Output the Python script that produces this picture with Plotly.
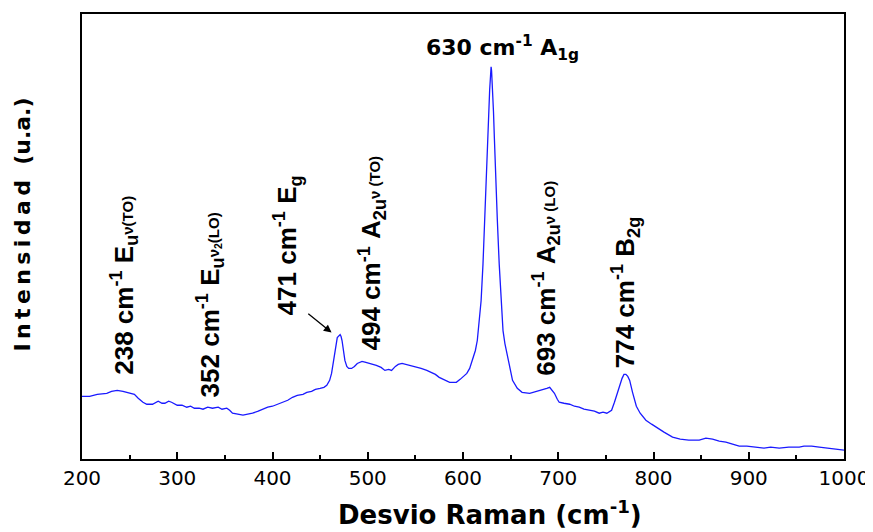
import plotly.graph_objects as go

# Raman shift (cm-1) and intensity (arbitrary units)
shift = [200, 208, 216, 226, 231, 237, 243, 250, 255, 259, 264, 268, 274, 280, 284, 287, 291, 294,
         300, 305, 310, 314, 318, 323, 327, 332, 337, 343, 347, 352, 355, 358, 364, 369, 374, 379,
         385, 390, 395, 400, 406, 411, 416, 421, 426, 432, 436, 441, 445, 450, 454, 457, 460, 462,
         464, 465, 467, 468, 471, 472, 473, 474, 476, 478, 480, 483, 486, 489, 494, 498, 502, 506,
         509, 514, 518, 522, 525, 529, 532, 536, 540, 544, 547, 552, 556, 562, 567, 571, 575, 581,
         586, 590, 593, 597, 600, 604, 607, 610, 613, 615, 617, 619, 621, 623, 625, 626, 627, 628,
         629, 629.5, 630, 631, 632, 633, 634, 636, 638, 640, 642, 644, 646, 649, 652, 657, 662, 670,
         678, 683, 688, 691, 694, 696, 699, 701, 706, 712, 717, 722, 727, 733, 738, 743, 747, 751,
         756, 759, 762, 765, 767, 769, 771, 773, 775, 778, 782, 786, 792, 798, 804, 811, 820, 828,
         837, 848, 855, 862, 869, 876, 883, 890, 898, 908, 916, 923, 932, 942, 953, 958, 966, 974,
         984, 991, 1000]
intensity = [62, 62, 64, 65, 67, 68, 67, 65, 64, 60, 56, 54, 54, 57, 55, 55, 57, 56,
             53, 53, 51, 52, 50, 50, 49, 51, 50, 51, 49, 50, 48, 45, 44, 43, 44, 45,
             47, 49, 51, 52, 54, 56, 58, 61, 63, 64, 66, 67, 69, 70, 71, 73, 78, 85,
             96, 105, 116, 121, 124, 122, 118, 110, 98, 92, 90, 90, 92, 95, 97, 96, 95, 94,
             93, 91, 88, 89, 88, 92, 94, 95, 94, 93, 93, 91, 90, 88, 86, 84, 81, 78,
             76, 76, 76, 79, 82, 85, 90, 98, 108, 118, 138, 158, 195, 240, 290, 318, 345, 370,
             388, 393, 389, 372, 348, 320, 290, 240, 195, 158, 128, 115, 105, 90, 78, 70, 66, 65,
             67, 68, 70, 71, 68, 65, 59, 56, 55, 54, 52, 51, 49, 48, 47, 45, 46, 45,
             48, 56, 65, 75, 80, 84, 84, 82, 78, 66, 52, 45, 38, 34, 30, 26, 21, 19,
             18, 18, 20, 19, 17, 16, 14, 12, 12, 11, 10, 11, 10, 11, 11, 12, 12, 11,
             10, 9, 8]

x_ticks = [200, 300, 400, 500, 600, 700, 800, 900, 1000]

# Peak annotations: (x, y, text)
peak_x = [244, 334, 415, 504, 687, 771]
peak_y = [82, 59, 141, 106, 81, 88]
SM = "<span style='font-size:15px'>"
peak_text = [
    "238 cm<sup>-1</sup>\u00a0E<sub>u</sub>" + SM + "\u03bd(TO)</span>",
    "352 cm<sup>-1</sup>\u00a0E<sub>u</sub>" + SM + "\u03bd<sub>2</sub>(LO)</span>",
    "471 cm<sup>-1</sup>\u00a0E<sub>g</sub>",
    "494 cm<sup>-1</sup>\u00a0A<sub>2u</sub>" + SM + "\u03bd (TO)</span>",
    "693 cm<sup>-1</sup>\u00a0A<sub>2u</sub>" + SM + "\u03bd (LO)</span>",
    "774 cm<sup>-1</sup>\u00a0B<sub>2g</sub>",
]

LABEL_FONT = "Liberation Sans Narrow, Arial Narrow, Liberation Sans, Arial, sans-serif"

fig = go.Figure()
fig.add_trace(go.Scatter(x=shift, y=intensity, mode="lines",
                         line=dict(color="#1a1aff", width=1.3), showlegend=False))

for x, y, t in zip(peak_x, peak_y, peak_text):
    fig.add_annotation(x=x, y=y, text=t, textangle=-90, showarrow=False,
                       xanchor="center", yanchor="bottom",
                       font=dict(family=LABEL_FONT, size=26, color="black", weight="bold"))

# Main peak label (horizontal)
fig.add_annotation(x=559, y=412, text="630 cm<sup>-1</sup> A<sub>1g</sub>", showarrow=False,
                   xanchor="left", yanchor="middle",
                   font=dict(family="DejaVu Sans", size=22, color="black", weight="bold"))

# Arrow to 471 peak
fig.add_annotation(x=462, y=126, ax=436, ay=146, axref="x", ayref="y", xref="x", yref="y",
                   text="", showarrow=True, arrowhead=2, arrowsize=1.2, arrowwidth=1.3,
                   arrowcolor="black")

# Axis titles as annotations
fig.add_annotation(xref="paper", yref="paper", x=-0.0786, y=0.527,
                   text="I\u2009n\u2009t\u2009e\u2009n\u2009s\u2009i\u2009d\u2009a\u2009d\u00a0\u00a0(u.a.)",
                   textangle=-90, showarrow=False, xanchor="center", yanchor="middle",
                   font=dict(family="DejaVu Sans", size=22, color="black", weight="bold"))
fig.add_annotation(xref="paper", yref="paper", x=0.535, y=-0.122,
                   text="Desvio Raman (cm<sup>-1</sup>)", showarrow=False,
                   xanchor="center", yanchor="middle",
                   font=dict(family="DejaVu Sans", size=26, color="black", weight="bold"))

# The page body has an 8px margin; size the figure so the plot area lands in place.
fig.update_layout(
    width=865, height=524,
    margin=dict(l=74, r=28, t=4, b=73),
    paper_bgcolor="white", plot_bgcolor="white",
    font=dict(family="DejaVu Sans", color="black"),
    xaxis=dict(range=[200, 1000], tickvals=x_ticks, ticks="inside", ticklen=7, tickwidth=1.8,
               tickcolor="black", showline=True, linewidth=2, linecolor="black", mirror=True,
               showgrid=False, zeroline=False, tickfont=dict(size=20, color="black"),
               minor=dict(dtick=50, ticks="inside", ticklen=4, tickwidth=1.5, tickcolor="black")),
    yaxis=dict(range=[-1, 446], showticklabels=False, ticks="", showline=True, linewidth=2,
               linecolor="black", mirror=True, showgrid=False, zeroline=False),
)

fig.write_html("out.html")
